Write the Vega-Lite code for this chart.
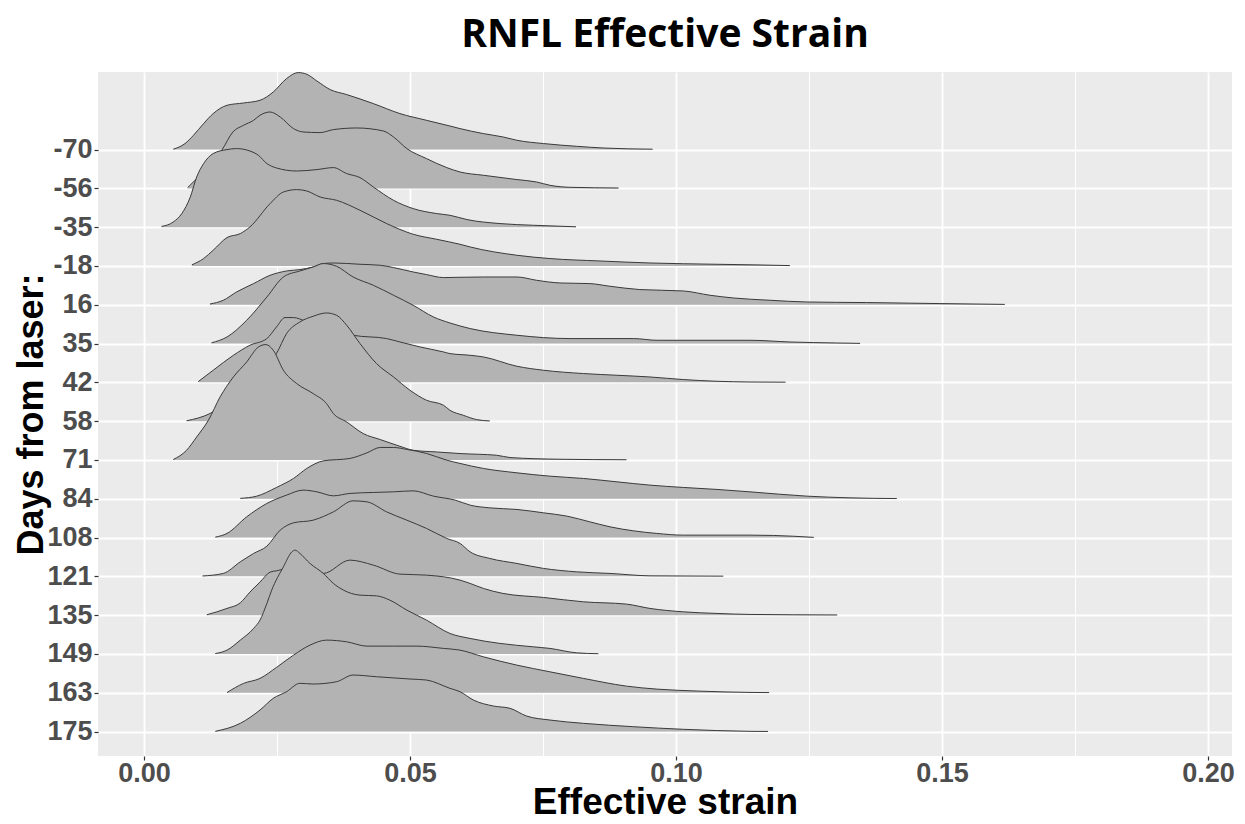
{
"$schema":"https://vega.github.io/schema/vega-lite/v6.json",
"autosize":"none",
"width":1134,"height":684,
"padding":{"left":98,"top":72,"right":13,"bottom":68},
"background":"#FFFFFF",
"title":{"text":"RNFL Effective Strain","font":"Open Sans","fontSize":39,"fontWeight":"bold","color":"#000000","anchor":"middle","frame":"group","offset":16},
"config":{"view":{"fill":"#EBEBEB","stroke":null},"font":"Liberation Sans"},
"datasets":{"ridges":[
{"day":"-70","strain":0.0055,"ridge":15.01},{"day":"-70","strain":0.0077,"ridge":15.155},{"day":"-70","strain":0.0093,"ridge":15.369},{"day":"-70","strain":0.0112,"ridge":15.67},{"day":"-70","strain":0.013,"ridge":15.928},{"day":"-70","strain":0.0156,"ridge":16.142},{"day":"-70","strain":0.0187,"ridge":16.201},{"day":"-70","strain":0.0218,"ridge":16.271},{"day":"-70","strain":0.0243,"ridge":16.485},{"day":"-70","strain":0.0268,"ridge":16.83},{"day":"-70","strain":0.029,"ridge":16.985},{"day":"-70","strain":0.0306,"ridge":16.941},{"day":"-70","strain":0.0325,"ridge":16.768},{"day":"-70","strain":0.035,"ridge":16.546},{"day":"-70","strain":0.0381,"ridge":16.418},{"day":"-70","strain":0.0431,"ridge":16.186},{"day":"-70","strain":0.0481,"ridge":15.928},{"day":"-70","strain":0.0531,"ridge":15.755},{"day":"-70","strain":0.0575,"ridge":15.608},{"day":"-70","strain":0.0594,"ridge":15.541},{"day":"-70","strain":0.0638,"ridge":15.412},{"day":"-70","strain":0.0675,"ridge":15.325},{"day":"-70","strain":0.0701,"ridge":15.24},{"day":"-70","strain":0.0751,"ridge":15.155},{"day":"-70","strain":0.0813,"ridge":15.085},{"day":"-70","strain":0.0863,"ridge":15.041},{"day":"-70","strain":0.0956,"ridge":15.01},
{"day":"-56","strain":0.0082,"ridge":14.02},{"day":"-56","strain":0.0096,"ridge":14.209},{"day":"-56","strain":0.0115,"ridge":14.466},{"day":"-56","strain":0.013,"ridge":14.724},{"day":"-56","strain":0.0146,"ridge":14.982},{"day":"-56","strain":0.0167,"ridge":15.454},{"day":"-56","strain":0.0187,"ridge":15.626},{"day":"-56","strain":0.0206,"ridge":15.755},{"day":"-56","strain":0.0218,"ridge":15.884},{"day":"-56","strain":0.0237,"ridge":15.969},{"day":"-56","strain":0.0256,"ridge":15.84},{"day":"-56","strain":0.0281,"ridge":15.541},{"day":"-56","strain":0.0299,"ridge":15.454},{"day":"-56","strain":0.0331,"ridge":15.438},{"day":"-56","strain":0.0356,"ridge":15.515},{"day":"-56","strain":0.04,"ridge":15.557},{"day":"-56","strain":0.045,"ridge":15.479},{"day":"-56","strain":0.0469,"ridge":15.325},{"day":"-56","strain":0.0494,"ridge":15.026},{"day":"-56","strain":0.0531,"ridge":14.768},{"day":"-56","strain":0.0569,"ridge":14.536},{"day":"-56","strain":0.0594,"ridge":14.423},{"day":"-56","strain":0.0638,"ridge":14.338},{"day":"-56","strain":0.0701,"ridge":14.227},{"day":"-56","strain":0.0738,"ridge":14.165},{"day":"-56","strain":0.0763,"ridge":14.08},{"day":"-56","strain":0.0801,"ridge":14.028},{"day":"-56","strain":0.0892,"ridge":14.01},
{"day":"-35","strain":0.0033,"ridge":13.02},{"day":"-35","strain":0.0055,"ridge":13.134},{"day":"-35","strain":0.0071,"ridge":13.351},{"day":"-35","strain":0.0087,"ridge":13.778},{"day":"-35","strain":0.0099,"ridge":14.294},{"day":"-35","strain":0.0112,"ridge":14.639},{"day":"-35","strain":0.013,"ridge":14.897},{"day":"-35","strain":0.0156,"ridge":15.0},{"day":"-35","strain":0.0174,"ridge":15.026},{"day":"-35","strain":0.0199,"ridge":14.964},{"day":"-35","strain":0.0215,"ridge":14.853},{"day":"-35","strain":0.0231,"ridge":14.639},{"day":"-35","strain":0.0249,"ridge":14.526},{"day":"-35","strain":0.0287,"ridge":14.448},{"day":"-35","strain":0.0325,"ridge":14.485},{"day":"-35","strain":0.0356,"ridge":14.536},{"day":"-35","strain":0.0381,"ridge":14.381},{"day":"-35","strain":0.0406,"ridge":14.278},{"day":"-35","strain":0.0431,"ridge":14.036},{"day":"-35","strain":0.0469,"ridge":13.693},{"day":"-35","strain":0.0506,"ridge":13.479},{"day":"-35","strain":0.055,"ridge":13.351},{"day":"-35","strain":0.0575,"ridge":13.307},{"day":"-35","strain":0.0607,"ridge":13.196},{"day":"-35","strain":0.0669,"ridge":13.093},{"day":"-35","strain":0.0732,"ridge":13.049},{"day":"-35","strain":0.0812,"ridge":13.01},
{"day":"-18","strain":0.009,"ridge":12.03},{"day":"-18","strain":0.0112,"ridge":12.191},{"day":"-18","strain":0.013,"ridge":12.405},{"day":"-18","strain":0.0156,"ridge":12.732},{"day":"-18","strain":0.0181,"ridge":12.835},{"day":"-18","strain":0.0199,"ridge":13.005},{"day":"-18","strain":0.0237,"ridge":13.608},{"day":"-18","strain":0.0262,"ridge":13.907},{"day":"-18","strain":0.0287,"ridge":13.969},{"day":"-18","strain":0.0306,"ridge":13.933},{"day":"-18","strain":0.0331,"ridge":13.778},{"day":"-18","strain":0.0362,"ridge":13.693},{"day":"-18","strain":0.0406,"ridge":13.436},{"day":"-18","strain":0.0456,"ridge":13.093},{"day":"-18","strain":0.0506,"ridge":12.817},{"day":"-18","strain":0.055,"ridge":12.688},{"day":"-18","strain":0.0594,"ridge":12.559},{"day":"-18","strain":0.0613,"ridge":12.49},{"day":"-18","strain":0.0701,"ridge":12.276},{"day":"-18","strain":0.0763,"ridge":12.191},{"day":"-18","strain":0.0857,"ridge":12.129},{"day":"-18","strain":0.0951,"ridge":12.077},{"day":"-18","strain":0.1077,"ridge":12.044},{"day":"-18","strain":0.1158,"ridge":12.026},{"day":"-18","strain":0.1214,"ridge":12.01},
{"day":"16","strain":0.0124,"ridge":11.02},{"day":"16","strain":0.0149,"ridge":11.116},{"day":"16","strain":0.0174,"ridge":11.33},{"day":"16","strain":0.0206,"ridge":11.546},{"day":"16","strain":0.0237,"ridge":11.76},{"day":"16","strain":0.0268,"ridge":11.871},{"day":"16","strain":0.0293,"ridge":11.907},{"day":"16","strain":0.0318,"ridge":11.974},{"day":"16","strain":0.0337,"ridge":12.062},{"day":"16","strain":0.0356,"ridge":12.077},{"day":"16","strain":0.0406,"ridge":12.044},{"day":"16","strain":0.0444,"ridge":12.018},{"day":"16","strain":0.0469,"ridge":11.959},{"day":"16","strain":0.0506,"ridge":11.845},{"day":"16","strain":0.0531,"ridge":11.778},{"day":"16","strain":0.0563,"ridge":11.701},{"day":"16","strain":0.0594,"ridge":11.709},{"day":"16","strain":0.0638,"ridge":11.716},{"day":"16","strain":0.0701,"ridge":11.716},{"day":"16","strain":0.0738,"ridge":11.631},{"day":"16","strain":0.0782,"ridge":11.562},{"day":"16","strain":0.0838,"ridge":11.546},{"day":"16","strain":0.0876,"ridge":11.477},{"day":"16","strain":0.0932,"ridge":11.392},{"day":"16","strain":0.1014,"ridge":11.356},{"day":"16","strain":0.1064,"ridge":11.245},{"day":"16","strain":0.1108,"ridge":11.175},{"day":"16","strain":0.1177,"ridge":11.116},{"day":"16","strain":0.1246,"ridge":11.072},{"day":"16","strain":0.1358,"ridge":11.057},{"day":"16","strain":0.1496,"ridge":11.031},{"day":"16","strain":0.1618,"ridge":11.01},
{"day":"35","strain":0.0127,"ridge":10.02},{"day":"35","strain":0.0156,"ridge":10.17},{"day":"35","strain":0.0193,"ridge":10.601},{"day":"35","strain":0.0231,"ridge":11.201},{"day":"35","strain":0.0262,"ridge":11.716},{"day":"35","strain":0.0293,"ridge":11.871},{"day":"35","strain":0.0318,"ridge":11.974},{"day":"35","strain":0.0337,"ridge":12.062},{"day":"35","strain":0.0362,"ridge":11.992},{"day":"35","strain":0.0393,"ridge":11.716},{"day":"35","strain":0.0431,"ridge":11.503},{"day":"35","strain":0.0469,"ridge":11.245},{"day":"35","strain":0.0506,"ridge":10.987},{"day":"35","strain":0.0544,"ridge":10.686},{"day":"35","strain":0.0575,"ridge":10.531},{"day":"35","strain":0.0613,"ridge":10.387},{"day":"35","strain":0.0701,"ridge":10.214},{"day":"35","strain":0.0801,"ridge":10.129},{"day":"35","strain":0.092,"ridge":10.129},{"day":"35","strain":0.0964,"ridge":10.085},{"day":"35","strain":0.1139,"ridge":10.085},{"day":"35","strain":0.1214,"ridge":10.041},{"day":"35","strain":0.1302,"ridge":10.015},{"day":"35","strain":0.1346,"ridge":10.005},
{"day":"42","strain":0.0102,"ridge":9.02},{"day":"42","strain":0.013,"ridge":9.312},{"day":"42","strain":0.0168,"ridge":9.698},{"day":"42","strain":0.0199,"ridge":9.956},{"day":"42","strain":0.0231,"ridge":10.129},{"day":"42","strain":0.0249,"ridge":10.428},{"day":"42","strain":0.0265,"ridge":10.67},{"day":"42","strain":0.0281,"ridge":10.67},{"day":"42","strain":0.0303,"ridge":10.582},{"day":"42","strain":0.0331,"ridge":10.472},{"day":"42","strain":0.0365,"ridge":10.343},{"day":"42","strain":0.0393,"ridge":10.214},{"day":"42","strain":0.0456,"ridge":10.129},{"day":"42","strain":0.0481,"ridge":10.041},{"day":"42","strain":0.0519,"ridge":9.912},{"day":"42","strain":0.0563,"ridge":9.784},{"day":"42","strain":0.0575,"ridge":9.742},{"day":"42","strain":0.0613,"ridge":9.698},{"day":"42","strain":0.0638,"ridge":9.655},{"day":"42","strain":0.0701,"ridge":9.415},{"day":"42","strain":0.0751,"ridge":9.312},{"day":"42","strain":0.0826,"ridge":9.227},{"day":"42","strain":0.0889,"ridge":9.183},{"day":"42","strain":0.0951,"ridge":9.139},{"day":"42","strain":0.1014,"ridge":9.072},{"day":"42","strain":0.1077,"ridge":9.028},{"day":"42","strain":0.1139,"ridge":9.01},{"day":"42","strain":0.1206,"ridge":9.005},
{"day":"58","strain":0.008,"ridge":8.01},{"day":"58","strain":0.0124,"ridge":8.196},{"day":"58","strain":0.0162,"ridge":8.539},{"day":"58","strain":0.0199,"ridge":8.925},{"day":"58","strain":0.0227,"ridge":9.363},{"day":"58","strain":0.0249,"ridge":9.742},{"day":"58","strain":0.0268,"ridge":10.258},{"day":"58","strain":0.0293,"ridge":10.557},{"day":"58","strain":0.0318,"ridge":10.704},{"day":"58","strain":0.0343,"ridge":10.789},{"day":"58","strain":0.0362,"ridge":10.729},{"day":"58","strain":0.0381,"ridge":10.472},{"day":"58","strain":0.0406,"ridge":10.0},{"day":"58","strain":0.0437,"ridge":9.485},{"day":"58","strain":0.0469,"ridge":9.139},{"day":"58","strain":0.05,"ridge":8.796},{"day":"58","strain":0.0531,"ridge":8.539},{"day":"58","strain":0.0563,"ridge":8.41},{"day":"58","strain":0.0575,"ridge":8.281},{"day":"58","strain":0.06,"ridge":8.152},{"day":"58","strain":0.0625,"ridge":8.041},{"day":"58","strain":0.065,"ridge":8.005},
{"day":"71","strain":0.0055,"ridge":7.01},{"day":"71","strain":0.008,"ridge":7.25},{"day":"71","strain":0.0099,"ridge":7.593},{"day":"71","strain":0.0121,"ridge":8.023},{"day":"71","strain":0.0143,"ridge":8.624},{"day":"71","strain":0.0168,"ridge":9.139},{"day":"71","strain":0.0193,"ridge":9.526},{"day":"71","strain":0.0215,"ridge":9.912},{"day":"71","strain":0.0229,"ridge":9.974},{"day":"71","strain":0.0243,"ridge":9.827},{"day":"71","strain":0.0262,"ridge":9.312},{"day":"71","strain":0.0287,"ridge":8.969},{"day":"71","strain":0.0318,"ridge":8.711},{"day":"71","strain":0.0343,"ridge":8.454},{"day":"71","strain":0.0356,"ridge":8.196},{"day":"71","strain":0.0381,"ridge":7.979},{"day":"71","strain":0.0412,"ridge":7.68},{"day":"71","strain":0.0444,"ridge":7.526},{"day":"71","strain":0.0481,"ridge":7.353},{"day":"71","strain":0.0506,"ridge":7.25},{"day":"71","strain":0.055,"ridge":7.206},{"day":"71","strain":0.0594,"ridge":7.165},{"day":"71","strain":0.0663,"ridge":7.121},{"day":"71","strain":0.0688,"ridge":7.062},{"day":"71","strain":0.0782,"ridge":7.018},{"day":"71","strain":0.0907,"ridge":7.005},
{"day":"84","strain":0.0181,"ridge":6.01},{"day":"84","strain":0.0212,"ridge":6.067},{"day":"84","strain":0.0249,"ridge":6.291},{"day":"84","strain":0.0281,"ridge":6.523},{"day":"84","strain":0.0306,"ridge":6.781},{"day":"84","strain":0.0337,"ridge":6.977},{"day":"84","strain":0.0387,"ridge":7.039},{"day":"84","strain":0.0419,"ridge":7.183},{"day":"84","strain":0.0444,"ridge":7.322},{"day":"84","strain":0.0469,"ridge":7.322},{"day":"84","strain":0.0494,"ridge":7.271},{"day":"84","strain":0.0531,"ridge":7.168},{"day":"84","strain":0.0569,"ridge":6.995},{"day":"84","strain":0.0594,"ridge":6.91},{"day":"84","strain":0.0638,"ridge":6.781},{"day":"84","strain":0.0701,"ridge":6.668},{"day":"84","strain":0.0763,"ridge":6.582},{"day":"84","strain":0.0826,"ridge":6.523},{"day":"84","strain":0.0889,"ridge":6.436},{"day":"84","strain":0.0951,"ridge":6.351},{"day":"84","strain":0.1014,"ridge":6.291},{"day":"84","strain":0.1077,"ridge":6.24},{"day":"84","strain":0.1139,"ridge":6.178},{"day":"84","strain":0.1246,"ridge":6.067},{"day":"84","strain":0.1327,"ridge":6.023},{"day":"84","strain":0.1415,"ridge":6.005},
{"day":"108","strain":0.0134,"ridge":5.01},{"day":"108","strain":0.0156,"ridge":5.106},{"day":"108","strain":0.0193,"ridge":5.534},{"day":"108","strain":0.0231,"ridge":5.879},{"day":"108","strain":0.0268,"ridge":6.093},{"day":"108","strain":0.0299,"ridge":6.222},{"day":"108","strain":0.0325,"ridge":6.178},{"day":"108","strain":0.0356,"ridge":6.075},{"day":"108","strain":0.0387,"ridge":6.137},{"day":"108","strain":0.0431,"ridge":6.162},{"day":"108","strain":0.0469,"ridge":6.178},{"day":"108","strain":0.0506,"ridge":6.204},{"day":"108","strain":0.0544,"ridge":6.067},{"day":"108","strain":0.0585,"ridge":5.964},{"day":"108","strain":0.0613,"ridge":5.835},{"day":"108","strain":0.065,"ridge":5.765},{"day":"108","strain":0.0701,"ridge":5.724},{"day":"108","strain":0.0751,"ridge":5.637},{"day":"108","strain":0.0795,"ridge":5.552},{"day":"108","strain":0.0838,"ridge":5.405},{"day":"108","strain":0.0876,"ridge":5.276},{"day":"108","strain":0.092,"ridge":5.173},{"day":"108","strain":0.0964,"ridge":5.106},{"day":"108","strain":0.1014,"ridge":5.062},{"day":"108","strain":0.1139,"ridge":5.062},{"day":"108","strain":0.1183,"ridge":5.054},{"day":"108","strain":0.1259,"ridge":5.005},
{"day":"121","strain":0.011,"ridge":4.01},{"day":"121","strain":0.0149,"ridge":4.075},{"day":"121","strain":0.0181,"ridge":4.374},{"day":"121","strain":0.0206,"ridge":4.59},{"day":"121","strain":0.0231,"ridge":4.778},{"day":"121","strain":0.0256,"ridge":5.191},{"day":"121","strain":0.0281,"ridge":5.379},{"day":"121","strain":0.0318,"ridge":5.448},{"day":"121","strain":0.0356,"ridge":5.662},{"day":"121","strain":0.0393,"ridge":5.946},{"day":"121","strain":0.0419,"ridge":5.92},{"day":"121","strain":0.0456,"ridge":5.662},{"day":"121","strain":0.0494,"ridge":5.448},{"day":"121","strain":0.0531,"ridge":5.235},{"day":"121","strain":0.0569,"ridge":4.977},{"day":"121","strain":0.0594,"ridge":4.848},{"day":"121","strain":0.0613,"ridge":4.631},{"day":"121","strain":0.065,"ridge":4.461},{"day":"121","strain":0.0701,"ridge":4.332},{"day":"121","strain":0.0751,"ridge":4.204},{"day":"121","strain":0.0813,"ridge":4.116},{"day":"121","strain":0.0876,"ridge":4.075},{"day":"121","strain":0.0951,"ridge":4.013},{"day":"121","strain":0.1089,"ridge":4.005},
{"day":"135","strain":0.0118,"ridge":3.01},{"day":"135","strain":0.0156,"ridge":3.173},{"day":"135","strain":0.0181,"ridge":3.317},{"day":"135","strain":0.0199,"ridge":3.593},{"day":"135","strain":0.0218,"ridge":3.851},{"day":"135","strain":0.0237,"ridge":4.108},{"day":"135","strain":0.0249,"ridge":4.142},{"day":"135","strain":0.0274,"ridge":4.211},{"day":"135","strain":0.0303,"ridge":4.211},{"day":"135","strain":0.0337,"ridge":4.075},{"day":"135","strain":0.0387,"ridge":4.418},{"day":"135","strain":0.0431,"ridge":4.289},{"day":"135","strain":0.0481,"ridge":4.057},{"day":"135","strain":0.0531,"ridge":4.031},{"day":"135","strain":0.0594,"ridge":3.902},{"day":"135","strain":0.0613,"ridge":3.817},{"day":"135","strain":0.0638,"ridge":3.688},{"day":"135","strain":0.0675,"ridge":3.559},{"day":"135","strain":0.0751,"ridge":3.456},{"day":"135","strain":0.0826,"ridge":3.343},{"day":"135","strain":0.0907,"ridge":3.284},{"day":"135","strain":0.0951,"ridge":3.173},{"day":"135","strain":0.1014,"ridge":3.085},{"day":"135","strain":0.1077,"ridge":3.044},{"day":"135","strain":0.1139,"ridge":3.018},{"day":"135","strain":0.1303,"ridge":3.005},
{"day":"149","strain":0.0134,"ridge":2.01},{"day":"149","strain":0.0156,"ridge":2.098},{"day":"149","strain":0.0181,"ridge":2.356},{"day":"149","strain":0.0206,"ridge":2.657},{"day":"149","strain":0.0218,"ridge":2.871},{"day":"149","strain":0.0231,"ridge":3.302},{"day":"149","strain":0.024,"ridge":3.644},{"day":"149","strain":0.0262,"ridge":4.245},{"day":"149","strain":0.0278,"ridge":4.631},{"day":"149","strain":0.0284,"ridge":4.675},{"day":"149","strain":0.0293,"ridge":4.59},{"day":"149","strain":0.0312,"ridge":4.332},{"day":"149","strain":0.0337,"ridge":4.075},{"day":"149","strain":0.0356,"ridge":3.817},{"day":"149","strain":0.0375,"ridge":3.644},{"day":"149","strain":0.0406,"ridge":3.515},{"day":"149","strain":0.0437,"ridge":3.497},{"day":"149","strain":0.0462,"ridge":3.387},{"day":"149","strain":0.0494,"ridge":3.129},{"day":"149","strain":0.0531,"ridge":2.871},{"day":"149","strain":0.0575,"ridge":2.528},{"day":"149","strain":0.0613,"ridge":2.399},{"day":"149","strain":0.0669,"ridge":2.271},{"day":"149","strain":0.0732,"ridge":2.183},{"day":"149","strain":0.0763,"ridge":2.142},{"day":"149","strain":0.0813,"ridge":2.028},{"day":"149","strain":0.0854,"ridge":2.005},
{"day":"163","strain":0.0156,"ridge":1.005},{"day":"163","strain":0.0187,"ridge":1.24},{"day":"163","strain":0.0218,"ridge":1.369},{"day":"163","strain":0.0249,"ridge":1.652},{"day":"163","strain":0.0281,"ridge":1.969},{"day":"163","strain":0.0312,"ridge":2.227},{"day":"163","strain":0.0343,"ridge":2.356},{"day":"163","strain":0.0381,"ridge":2.312},{"day":"163","strain":0.0419,"ridge":2.201},{"day":"163","strain":0.0469,"ridge":2.201},{"day":"163","strain":0.0513,"ridge":2.201},{"day":"163","strain":0.0563,"ridge":2.142},{"day":"163","strain":0.0594,"ridge":2.098},{"day":"163","strain":0.0638,"ridge":1.925},{"day":"163","strain":0.0701,"ridge":1.711},{"day":"163","strain":0.0763,"ridge":1.539},{"day":"163","strain":0.0826,"ridge":1.369},{"day":"163","strain":0.0907,"ridge":1.17},{"day":"163","strain":0.0964,"ridge":1.093},{"day":"163","strain":0.1045,"ridge":1.041},{"day":"163","strain":0.1139,"ridge":1.008},{"day":"163","strain":0.1175,"ridge":1.003},
{"day":"175","strain":0.0134,"ridge":0.005},{"day":"175","strain":0.0181,"ridge":0.211},{"day":"175","strain":0.0218,"ridge":0.554},{"day":"175","strain":0.0243,"ridge":0.856},{"day":"175","strain":0.0268,"ridge":1.026},{"day":"175","strain":0.0293,"ridge":1.242},{"day":"175","strain":0.0318,"ridge":1.224},{"day":"175","strain":0.0362,"ridge":1.284},{"day":"175","strain":0.0393,"ridge":1.456},{"day":"175","strain":0.0437,"ridge":1.412},{"day":"175","strain":0.05,"ridge":1.353},{"day":"175","strain":0.0531,"ridge":1.327},{"day":"175","strain":0.0575,"ridge":1.113},{"day":"175","strain":0.0594,"ridge":1.026},{"day":"175","strain":0.0619,"ridge":0.812},{"day":"175","strain":0.0657,"ridge":0.657},{"day":"175","strain":0.0688,"ridge":0.598},{"day":"175","strain":0.0719,"ridge":0.399},{"day":"175","strain":0.0763,"ridge":0.296},{"day":"175","strain":0.0826,"ridge":0.211},{"day":"175","strain":0.092,"ridge":0.124},{"day":"175","strain":0.1014,"ridge":0.057},{"day":"175","strain":0.1139,"ridge":0.005},{"day":"175","strain":0.1173,"ridge":0.002}
]},
"data":{"name":"ridges"},
"encoding":{
"x":{"field":"strain","type":"quantitative","scale":{"domain":[-0.00865,0.20451],"nice":false,"zero":false},
 "axis":{"values":[0,0.025,0.05,0.075,0.1,0.125,0.15,0.175,0.2],
  "labelExpr":"round(datum.value*1000) % 50 == 0 ? format(datum.value, '.2f') : ''",
  "labelFont":"Liberation Sans","labelFontSize":27,"labelFontWeight":"bold","labelColor":"#4D4D4D","labelPadding":0,
  "tickColor":"#333333","tickSize":4,"tickWidth":1.2,
  "tickOpacity":{"condition":{"test":"round(datum.value*1000) % 50 != 0","value":0},"value":1},
  "domain":false,"grid":true,"gridColor":"#FFFFFF",
  "gridWidth":{"condition":{"test":"round(datum.value*1000) % 50 != 0","value":1},"value":1.8},
  "title":"Effective strain","titleFont":"Liberation Sans","titleFontSize":37,"titleFontWeight":"bold","titleColor":"#000000",
  "titleBaseline":"alphabetic","titleX":567,"titleY":57}},
"y":{"field":"ridge","type":"quantitative","scale":{"domain":[-0.631,17.0],"nice":false,"zero":false},
 "axis":{"values":[0,1,2,3,4,5,6,7,8,9,10,11,12,13,14,15],
  "labelExpr":"['175','163','149','135','121','108','84','71','58','42','35','16','-18','-35','-56','-70'][datum.value]",
  "labelFont":"Liberation Sans","labelFontSize":27,"labelFontWeight":"bold","labelColor":"#4D4D4D","labelPadding":2,
  "tickColor":"#333333","tickSize":4,"tickWidth":1.2,
  "domain":false,"grid":true,"gridColor":"#FFFFFF","gridWidth":1.8,
  "title":"Days from laser:","titleFont":"Liberation Sans","titleFontSize":36,"titleFontWeight":"bold","titleColor":"#000000",
  "titleBaseline":"alphabetic","titleX":-56,"titleY":342}}
},
"layer":[
{"transform":[{"filter":"datum.day === '-70'"}],"layer":[{"mark":{"type":"area","interpolate":"monotone","fill":"#B3B3B3","stroke":null},"encoding":{"y2":{"datum":15}}},{"mark":{"type":"line","interpolate":"monotone","stroke":"#3A3A3A","strokeWidth":1}}]},
{"transform":[{"filter":"datum.day === '-56'"}],"layer":[{"mark":{"type":"area","interpolate":"monotone","fill":"#B3B3B3","stroke":null},"encoding":{"y2":{"datum":14}}},{"mark":{"type":"line","interpolate":"monotone","stroke":"#3A3A3A","strokeWidth":1}}]},
{"transform":[{"filter":"datum.day === '-35'"}],"layer":[{"mark":{"type":"area","interpolate":"monotone","fill":"#B3B3B3","stroke":null},"encoding":{"y2":{"datum":13}}},{"mark":{"type":"line","interpolate":"monotone","stroke":"#3A3A3A","strokeWidth":1}}]},
{"transform":[{"filter":"datum.day === '-18'"}],"layer":[{"mark":{"type":"area","interpolate":"monotone","fill":"#B3B3B3","stroke":null},"encoding":{"y2":{"datum":12}}},{"mark":{"type":"line","interpolate":"monotone","stroke":"#3A3A3A","strokeWidth":1}}]},
{"transform":[{"filter":"datum.day === '16'"}],"layer":[{"mark":{"type":"area","interpolate":"monotone","fill":"#B3B3B3","stroke":null},"encoding":{"y2":{"datum":11}}},{"mark":{"type":"line","interpolate":"monotone","stroke":"#3A3A3A","strokeWidth":1}}]},
{"transform":[{"filter":"datum.day === '35'"}],"layer":[{"mark":{"type":"area","interpolate":"monotone","fill":"#B3B3B3","stroke":null},"encoding":{"y2":{"datum":10}}},{"mark":{"type":"line","interpolate":"monotone","stroke":"#3A3A3A","strokeWidth":1}}]},
{"transform":[{"filter":"datum.day === '42'"}],"layer":[{"mark":{"type":"area","interpolate":"monotone","fill":"#B3B3B3","stroke":null},"encoding":{"y2":{"datum":9}}},{"mark":{"type":"line","interpolate":"monotone","stroke":"#3A3A3A","strokeWidth":1}}]},
{"transform":[{"filter":"datum.day === '58'"}],"layer":[{"mark":{"type":"area","interpolate":"monotone","fill":"#B3B3B3","stroke":null},"encoding":{"y2":{"datum":8}}},{"mark":{"type":"line","interpolate":"monotone","stroke":"#3A3A3A","strokeWidth":1}}]},
{"transform":[{"filter":"datum.day === '71'"}],"layer":[{"mark":{"type":"area","interpolate":"monotone","fill":"#B3B3B3","stroke":null},"encoding":{"y2":{"datum":7}}},{"mark":{"type":"line","interpolate":"monotone","stroke":"#3A3A3A","strokeWidth":1}}]},
{"transform":[{"filter":"datum.day === '84'"}],"layer":[{"mark":{"type":"area","interpolate":"monotone","fill":"#B3B3B3","stroke":null},"encoding":{"y2":{"datum":6}}},{"mark":{"type":"line","interpolate":"monotone","stroke":"#3A3A3A","strokeWidth":1}}]},
{"transform":[{"filter":"datum.day === '108'"}],"layer":[{"mark":{"type":"area","interpolate":"monotone","fill":"#B3B3B3","stroke":null},"encoding":{"y2":{"datum":5}}},{"mark":{"type":"line","interpolate":"monotone","stroke":"#3A3A3A","strokeWidth":1}}]},
{"transform":[{"filter":"datum.day === '121'"}],"layer":[{"mark":{"type":"area","interpolate":"monotone","fill":"#B3B3B3","stroke":null},"encoding":{"y2":{"datum":4}}},{"mark":{"type":"line","interpolate":"monotone","stroke":"#3A3A3A","strokeWidth":1}}]},
{"transform":[{"filter":"datum.day === '135'"}],"layer":[{"mark":{"type":"area","interpolate":"monotone","fill":"#B3B3B3","stroke":null},"encoding":{"y2":{"datum":3}}},{"mark":{"type":"line","interpolate":"monotone","stroke":"#3A3A3A","strokeWidth":1}}]},
{"transform":[{"filter":"datum.day === '149'"}],"layer":[{"mark":{"type":"area","interpolate":"monotone","fill":"#B3B3B3","stroke":null},"encoding":{"y2":{"datum":2}}},{"mark":{"type":"line","interpolate":"monotone","stroke":"#3A3A3A","strokeWidth":1}}]},
{"transform":[{"filter":"datum.day === '163'"}],"layer":[{"mark":{"type":"area","interpolate":"monotone","fill":"#B3B3B3","stroke":null},"encoding":{"y2":{"datum":1}}},{"mark":{"type":"line","interpolate":"monotone","stroke":"#3A3A3A","strokeWidth":1}}]},
{"transform":[{"filter":"datum.day === '175'"}],"layer":[{"mark":{"type":"area","interpolate":"monotone","fill":"#B3B3B3","stroke":null},"encoding":{"y2":{"datum":0}}},{"mark":{"type":"line","interpolate":"monotone","stroke":"#3A3A3A","strokeWidth":1}}]}
]
}
